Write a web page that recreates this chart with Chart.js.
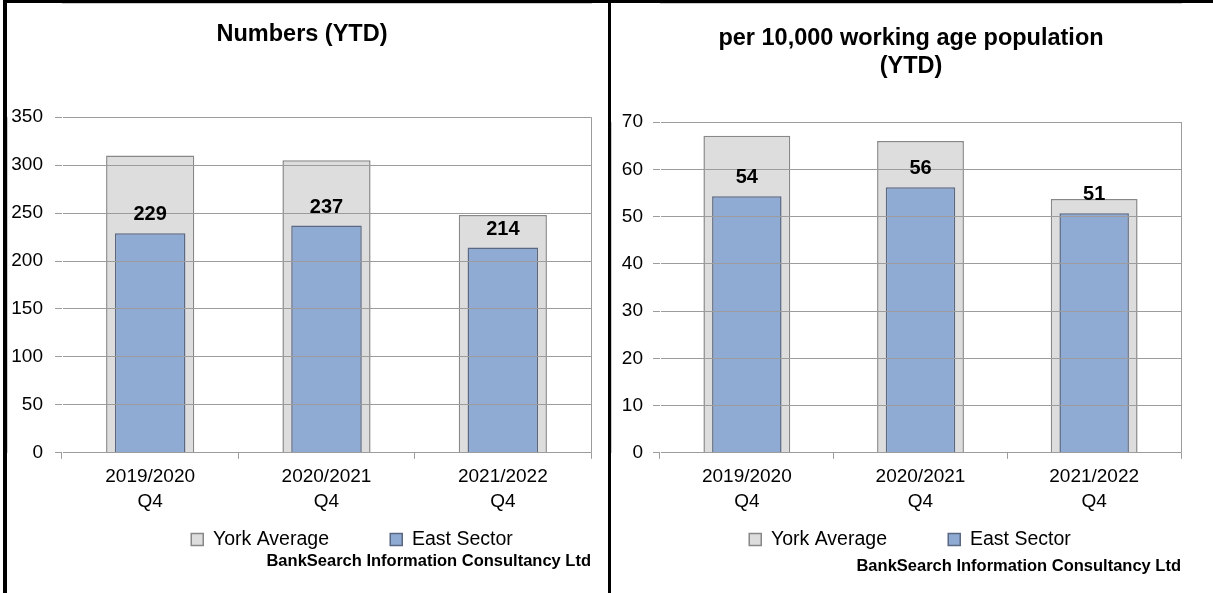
<!DOCTYPE html>
<html>
<head>
<meta charset="utf-8">
<script src="https://cdn.jsdelivr.net/npm/chart.js@4.4.1/dist/chart.umd.min.js"></script>
<style>
  body { margin: 0; background: #fff; width: 1213px; height: 593px; overflow: hidden; position: relative; }
  .rule { position: absolute; background: #000; }
  .panel { position: absolute; top: 3px; height: 590px; }
</style>
</head>
<body>
<div class="rule" style="left:3px;top:0;width:4px;height:593px"></div>
<div class="rule" style="left:3px;top:0;width:1210px;height:3px"></div>
<div class="rule" style="left:608px;top:0;width:3px;height:593px"></div>
<div class="panel" style="left:7px;width:601px"><canvas id="numbers"></canvas></div>
<div class="panel" style="left:611px;width:602px"><canvas id="rate"></canvas></div>
<script>
// data
const categories = [['2019/2020', 'Q4'], ['2020/2021', 'Q4'], ['2021/2022', 'Q4']];
const seriesNames = ['York Average', 'East Sector'];
const yorkNumbers = [310, 305, 248];
const eastNumbers = [229, 237, 214];
const yorkRate = [67.1, 66.0, 53.7];
const eastRate = [54.3, 56.2, 50.7];
const numbersTicks = [0, 50, 100, 150, 200, 250, 300, 350];
const rateTicks = [0, 10, 20, 30, 40, 50, 60, 70];
const sourceText = 'BankSearch Information Consultancy Ltd';

const FONT = '"Liberation Sans", Arial, Helvetica, sans-serif';
const GRID = '#9c9c9c';

// value labels above the East Sector bars
const barLabels = {
  id: 'barLabels',
  afterDraw(chart) {
    const ctx = chart.ctx;
    const ds = chart.data.datasets[1];
    ctx.save();
    ctx.font = 'bold 20px ' + FONT;
    ctx.fillStyle = '#000';
    ctx.textAlign = 'center';
    ctx.textBaseline = 'alphabetic';
    chart.getDatasetMeta(1).data.forEach((bar, i) => {
      ctx.fillText(String(Math.round(ds.data[i])), bar.x, bar.y - 13);
    });
    ctx.restore();
  }
};

// right hand edge of the plot area
const plotFrame = {
  id: 'plotFrame',
  afterDatasetsDraw(chart) {
    const {ctx, chartArea} = chart;
    ctx.save();
    ctx.strokeStyle = GRID;
    ctx.lineWidth = 1;
    ctx.beginPath();
    ctx.moveTo(Math.round(chartArea.right) + 0.5, chartArea.top);
    ctx.lineTo(Math.round(chartArea.right) + 0.5, chartArea.bottom);
    ctx.stroke();
    ctx.restore();
  }
};

// legend and title are a little off centre in the original
const boxShift = {
  id: 'boxShift',
  afterLayout(chart, args, opts) {
    if (chart.legend && opts.legendDx) {
      chart.legend.left += opts.legendDx;
      chart.legend.right += opts.legendDx;
    }
    if (chart.titleBlock && opts.titleDx) {
      chart.titleBlock.left += opts.titleDx;
      chart.titleBlock.right += opts.titleDx;
    }
  }
};

function legendItems(chart) {
  const items = Chart.defaults.plugins.legend.labels.generateLabels(chart)
    .sort((a, b) => a.datasetIndex - b.datasetIndex);
  // blank entry to widen the gap between the two keys
  items.splice(1, 0, {text: '\u2003', fillStyle: 'rgba(0,0,0,0)', strokeStyle: 'rgba(0,0,0,0)',
    lineWidth: 0, hidden: false, datasetIndex: -1});
  return items;
}

function makeChart(id, title, yorkData, eastData, yTicks, o) {
  return new Chart(document.getElementById(id), {
    type: 'bar',
    data: {
      labels: categories,
      datasets: [
        {label: seriesNames[0], data: yorkData, backgroundColor: '#dddddd', borderColor: '#888888',
          borderWidth: 1.5, barPercentage: 0.5, categoryPercentage: 1, grouped: false, order: 2},
        {label: seriesNames[1], data: eastData, backgroundColor: '#8faad3', borderColor: '#5b6882',
          borderWidth: 1.5, barPercentage: 0.4, categoryPercentage: 1, grouped: false, order: 1}
      ]
    },
    options: {
      responsive: true,
      maintainAspectRatio: false,
      animation: false,
      events: [],
      layout: {padding: {left: 0, right: o.padRight, top: 0, bottom: 0}},
      scales: {
        x: {
          grid: {drawOnChartArea: false, drawTicks: true, tickLength: 6, color: GRID, z: 1},
          border: {color: GRID},
          ticks: {color: '#000', font: {family: FONT, size: 19, lineHeight: 1.29}, padding: 6,
            maxRotation: 0, autoSkip: false}
        },
        y: {
          min: yTicks[0],
          max: yTicks[yTicks.length - 1],
          afterBuildTicks: (scale) => { scale.ticks = yTicks.map(v => ({value: v})); },
          afterFit: (scale) => { scale.width = o.axisWidth; },
          grid: {color: GRID, tickLength: 7, z: 1},
          border: {color: GRID},
          ticks: {color: '#000', font: {family: FONT, size: 19}, padding: o.tickPad}
        }
      },
      plugins: {
        tooltip: {enabled: false},
        title: {
          display: true, text: title, color: '#000',
          font: {family: FONT, size: 23.5, weight: 'bold', lineHeight: o.titleLH},
          padding: {top: o.titleTop, bottom: o.titleBottom}
        },
        subtitle: {
          display: true, text: sourceText, position: 'bottom', align: 'end', color: '#000',
          font: {family: FONT, size: 16.5, weight: 'bold', lineHeight: 0.1},
          padding: {top: o.srcTop, bottom: o.srcBottom}
        },
        legend: {
          position: 'bottom',
          labels: {
            boxWidth: 12, boxHeight: 12, padding: 10, color: '#000',
            font: {family: FONT, size: 19.5},
            generateLabels: legendItems
          }
        },
        boxShift: {legendDx: o.legendDx, titleDx: o.titleDx}
      }
    },
    plugins: [barLabels, plotFrame, boxShift]
  });
}

makeChart('numbers', 'Numbers (YTD)', yorkNumbers, eastNumbers, numbersTicks,
  {padRight: 17, axisWidth: 55, tickPad: 12, titleLH: 1.2, titleTop: 17, titleBottom: 69,
    srcTop: 1, srcBottom: 31, legendDx: 53, titleDx: 3});
makeChart('rate', ['per 10,000 working age population', '(YTD)'], yorkRate, eastRate, rateTicks,
  {padRight: 32, axisWidth: 49, tickPad: 10, titleLH: 1.15, titleTop: 22.5, titleBottom: 42.5,
    srcTop: 6, srcBottom: 26, legendDx: 14, titleDx: 15});
</script>
</body>
</html>
